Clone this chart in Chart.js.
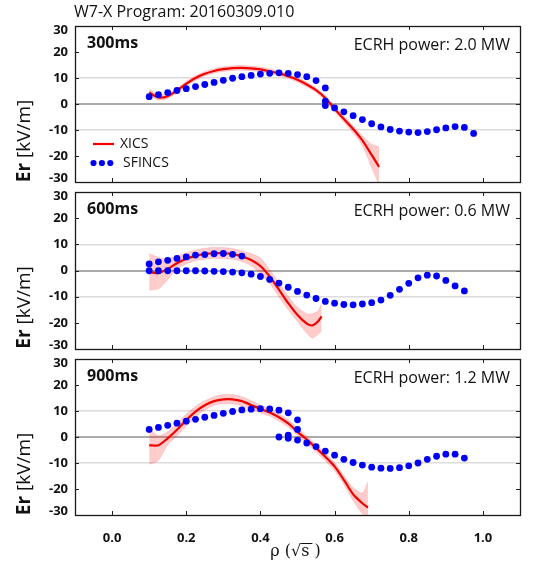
<!DOCTYPE html>
<html>
<head>
<meta charset="utf-8">
<script src="https://cdn.jsdelivr.net/npm/chart.js@4.4.0/dist/chart.umd.min.js"></script>
<style>
  html, body { margin: 0; padding: 0; background: #fff; }
  #wrap { position: relative; width: 538px; height: 567px; }
  canvas { position: absolute; left: 0; }
</style>
</head>
<body>
<div id="wrap">
  <canvas id="p300" width="538" height="188" style="top:0px"></canvas>
  <canvas id="p600" width="538" height="167" style="top:188px"></canvas>
  <canvas id="p900" width="538" height="212" style="top:355px"></canvas>
</div>
<script>
// --- data ---
const xTickValues = [0, 0.2, 0.4, 0.6, 0.8, 1.0];
const yTickValues = [-30, -20, -10, 0, 10, 20, 30];

// 300 ms
const rho300Xics = [0.1, 0.125, 0.15, 0.175, 0.2, 0.225, 0.25, 0.275, 0.3, 0.325, 0.35, 0.375, 0.4, 0.425, 0.45, 0.475, 0.5, 0.525, 0.55, 0.575, 0.6, 0.625, 0.65, 0.675, 0.7, 0.72];
const er300Xics = [4.4, 2.5, 3.0, 5.2, 7.8, 10.0, 11.6, 12.7, 13.4, 13.8, 13.9, 13.7, 13.3, 12.6, 11.8, 10.7, 9.3, 7.5, 5.3, 2.3, -1.8, -5.8, -9.6, -14.0, -19.6, -24.2];
const er300Hi = [5.9, 3.6, 4.0, 6.1, 8.7, 10.9, 12.5, 13.6, 14.3, 14.7, 14.8, 14.6, 14.2, 13.5, 12.7, 11.6, 10.2, 8.4, 6.2, 3.3, -0.7, -4.6, -8.4, -12.2, -15.5, -16.5];
const er300Lo = [3.4, 1.5, 2.0, 4.3, 6.9, 9.1, 10.7, 11.8, 12.5, 12.9, 13.0, 12.8, 12.4, 11.7, 10.9, 9.8, 8.4, 6.6, 4.4, 1.3, -2.9, -7.0, -11.2, -16.0, -24.5, -31.0];
const rho300Sfincs = [0.1, 0.125, 0.15, 0.175, 0.2, 0.225, 0.25, 0.275, 0.3, 0.325, 0.35, 0.375, 0.4, 0.425, 0.45, 0.475, 0.5, 0.525, 0.55, 0.575, 0.575, 0.575, 0.6, 0.625, 0.65, 0.675, 0.7, 0.725, 0.75, 0.775, 0.8, 0.825, 0.85, 0.875, 0.9, 0.925, 0.95, 0.975];
const er300Sfincs = [2.8, 3.6, 4.4, 5.2, 5.9, 6.7, 7.5, 8.3, 9.1, 9.9, 10.5, 11.0, 11.5, 11.8, 12.0, 11.8, 11.3, 10.5, 9.0, 6.2, 1.1, -0.6, -1.5, -3.0, -4.5, -6.0, -7.6, -8.8, -9.8, -10.4, -10.8, -11.0, -10.6, -9.9, -9.2, -8.7, -9.0, -11.3];

// 600 ms
const rho600Xics = [0.1, 0.125, 0.15, 0.175, 0.2, 0.225, 0.25, 0.275, 0.3, 0.325, 0.35, 0.375, 0.4, 0.425, 0.45, 0.475, 0.5, 0.525, 0.54, 0.555, 0.565];
const er600Xics = [-0.5, -1.0, 0.6, 2.8, 4.5, 5.6, 6.3, 6.6, 6.6, 6.3, 5.4, 4.0, 1.7, -2.3, -7.3, -12.5, -17.0, -20.3, -21.0, -19.5, -17.5];
const er600Hi = [6.5, 5.0, 4.5, 5.5, 6.7, 7.8, 8.5, 8.8, 8.8, 8.4, 7.5, 6.5, 4.8, 0.3, -4.8, -9.8, -14.0, -16.5, -16.5, -15.5, -12.5];
const er600Lo = [-7.5, -7.0, -3.5, 0.5, 2.5, 3.7, 4.3, 4.6, 4.6, 4.3, 3.4, 1.8, -1.2, -5.0, -10.0, -15.0, -19.5, -24.0, -25.8, -24.5, -23.0];
const rho600Sfincs = [0.1, 0.125, 0.15, 0.175, 0.2, 0.225, 0.25, 0.275, 0.3, 0.325, 0.35,
  0.1, 0.125, 0.15, 0.175, 0.2, 0.225, 0.25, 0.275, 0.3, 0.325, 0.35, 0.375, 0.4, 0.425, 0.45, 0.475, 0.5, 0.525, 0.55, 0.575, 0.6, 0.625, 0.65, 0.675, 0.7, 0.725, 0.75, 0.775, 0.8, 0.825, 0.85, 0.875, 0.9, 0.925, 0.95];
const er600Sfincs = [2.5, 3.3, 3.9, 4.6, 5.2, 5.9, 6.1, 6.4, 6.5, 6.2, 5.5,
  -0.1, -0.1, -0.1, -0.1, -0.1, -0.1, -0.2, -0.3, -0.4, -0.6, -0.9, -1.4, -2.3, -3.4, -4.8, -6.4, -8.0, -9.4, -10.7, -11.8, -12.5, -13.0, -13.1, -12.8, -12.3, -11.3, -9.5, -7.2, -4.9, -2.8, -1.8, -2.1, -3.8, -5.9, -7.8];

// 900 ms
const rho900Xics = [0.1, 0.125, 0.15, 0.175, 0.2, 0.225, 0.25, 0.275, 0.3, 0.325, 0.35, 0.375, 0.4, 0.425, 0.45, 0.475, 0.5, 0.525, 0.55, 0.575, 0.6, 0.625, 0.65, 0.675, 0.69];
const er900Xics = [-3.2, -3.2, -0.5, 2.8, 6.5, 9.8, 12.2, 13.8, 14.5, 14.5, 13.8, 12.3, 10.8, 9.4, 7.6, 5.2, 2.0, -1.0, -4.2, -7.6, -11.3, -16.5, -22.0, -25.5, -27.2];
const er900Hi = [3.5, 0.5, 2.0, 5.3, 8.8, 11.8, 14.0, 15.5, 16.3, 16.3, 15.5, 14.0, 12.3, 10.6, 8.9, 6.6, 3.5, 0.4, -2.8, -6.2, -9.8, -14.8, -19.5, -21.5, -17.3];
const er900Lo = [-10.5, -9.0, -3.0, 0.4, 4.2, 7.8, 10.4, 12.2, 12.8, 12.7, 12.0, 10.6, 9.2, 8.1, 6.2, 3.8, 0.5, -2.5, -5.8, -9.2, -13.0, -18.3, -24.5, -29.5, -31.0];
const rho900Sfincs = [0.1, 0.125, 0.15, 0.175, 0.2, 0.225, 0.25, 0.275, 0.3, 0.325, 0.35, 0.375, 0.4, 0.425, 0.45, 0.475, 0.5, 0.5,
  0.45, 0.475, 0.475, 0.5, 0.525, 0.55, 0.575, 0.6, 0.625, 0.65, 0.675, 0.7, 0.725, 0.75, 0.775, 0.8, 0.825, 0.85, 0.875, 0.9, 0.925, 0.95];
const er900Sfincs = [2.9, 3.7, 4.5, 5.3, 6.1, 6.8, 7.6, 8.3, 9.1, 9.8, 10.4, 10.7, 10.9, 10.8, 10.3, 9.3, 6.6, 2.9,
  0.0, 0.7, -0.5, -1.2, -2.3, -3.7, -5.4, -7.0, -8.6, -9.8, -10.8, -11.6, -12.0, -12.1, -11.8, -11.1, -10.0, -8.6, -7.4, -6.6, -6.6, -8.1];

const RED = '#f20000';
const PINK = 'rgba(255, 0, 0, 0.2)';
const BLUE = '#0000f5';

Chart.defaults.font.family = "'Open Sans', 'DejaVu Sans', sans-serif";
Chart.defaults.color = '#111';

function zip(xs, ys) {
  return xs.map((x, i) => ({ x: x, y: ys[i] }));
}

// frame, inner ticks and all the texts gnuplot puts around the panels
const decor = {
  id: 'decor',
  afterDraw(chart, args, opts) {
    const ctx = chart.ctx;
    const a = chart.chartArea;
    const xs = chart.scales.x, ys = chart.scales.y;
    ctx.save();

    // inner ticks
    ctx.strokeStyle = '#222';
    ctx.lineWidth = 1;
    ctx.beginPath();
    xTickValues.forEach(v => {
      const px = Math.round(xs.getPixelForValue(v)) + 0.5;
      ctx.moveTo(px, a.top); ctx.lineTo(px, a.top + 4);
      ctx.moveTo(px, a.bottom); ctx.lineTo(px, a.bottom - 4);
    });
    yTickValues.forEach(v => {
      if (Math.abs(v) === 30) return;
      const py = Math.round(ys.getPixelForValue(v)) + 0.5;
      ctx.moveTo(a.left, py); ctx.lineTo(a.left + 4, py);
      ctx.moveTo(a.right, py); ctx.lineTo(a.right - 4, py);
    });
    ctx.stroke();

    // frame
    ctx.lineWidth = 1.3;
    ctx.strokeStyle = '#1a1a1a';
    ctx.strokeRect(Math.round(a.left) + 0.5, Math.round(a.top) + 0.5,
      Math.round(a.right - a.left), Math.round(a.bottom - a.top));

    ctx.fillStyle = '#111';
    ctx.textBaseline = 'middle';

    // time label and heating power
    ctx.font = "bold 16px 'Open Sans', sans-serif";
    ctx.textAlign = 'left';
    ctx.fillText(opts.time, a.left + 12, a.top + 17);
    ctx.font = "16px 'Open Sans', sans-serif";
    ctx.textAlign = 'right';
    ctx.fillText(opts.power, a.right - 10, a.top + 19);

    // y title: bold "Er" then normal " [kV/m]"
    ctx.save();
    ctx.translate(25, (a.top + a.bottom) / 2 + 37);
    ctx.rotate(-Math.PI / 2);
    ctx.font = "bold 19px 'Open Sans', sans-serif";
    const w1 = ctx.measureText('Er').width;
    ctx.font = "19px 'Open Sans', sans-serif";
    const w2 = ctx.measureText(' [kV/m]').width;
    let x0 = -(w1 + w2) / 2;
    ctx.textAlign = 'left';
    ctx.font = "bold 19px 'Open Sans', sans-serif";
    ctx.fillText('Er', x0, 0);
    ctx.font = "19px 'Open Sans', sans-serif";
    ctx.fillText(' [kV/m]', x0 + w1, 0);
    ctx.restore();

    if (opts.title) {
      ctx.font = "16px 'Open Sans', sans-serif";
      ctx.textAlign = 'left';
      ctx.fillText(opts.title, 74, 12);
    }

    if (opts.legend) {
      const lx = a.left + 18;
      const ly1 = a.top + 118, ly2 = a.top + 137;
      ctx.strokeStyle = RED;
      ctx.lineWidth = 2.2;
      ctx.beginPath();
      ctx.moveTo(lx, ly1); ctx.lineTo(lx + 21, ly1);
      ctx.stroke();
      ctx.fillStyle = BLUE;
      [0, 8.4, 16.8].forEach(d => {
        ctx.beginPath();
        ctx.arc(lx + 0.5 + d, ly2, 3.1, 0, Math.PI * 2);
        ctx.fill();
      });
      ctx.fillStyle = '#111';
      ctx.font = "14px 'Open Sans', sans-serif";
      ctx.textAlign = 'left';
      ctx.fillText('XICS', lx + 27, ly1);
      ctx.fillText('SFINCS', lx + 30, ly2);
    }

    if (opts.xTitle) {
      const cx = (a.left + a.right) / 2 - 2;
      const cy = a.bottom + 37;
      ctx.font = "16px 'DejaVu Serif', serif";
      const parts = ['ρ (', '√', 's', ' )'];
      const widths = parts.map(p => ctx.measureText(p).width);
      let x = cx - widths.reduce((s, w) => s + w, 0) / 2;
      ctx.textAlign = 'left';
      parts.forEach((p, i) => {
        if (p === 's') {
          ctx.strokeStyle = '#111';
          ctx.lineWidth = 1;
          ctx.beginPath();
          ctx.moveTo(x, cy - 8.5); ctx.lineTo(x + widths[i] + 3, cy - 8.5);
          ctx.stroke();
        }
        ctx.fillText(p, x, cy);
        x += widths[i];
      });
    }
    ctx.restore();
  }
};

function makePanel(id, d) {
  return new Chart(document.getElementById(id), {
    type: 'line',
    plugins: [decor],
    data: {
      datasets: [
        {
          label: 'SFINCS', data: zip(d.rhoS, d.erS), showLine: false,
          pointRadius: 3.4, pointBackgroundColor: BLUE, pointBorderWidth: 0, order: 0
        },
        {
          label: 'XICS', data: zip(d.rhoX, d.erX), borderColor: RED, borderWidth: 2.2,
          pointRadius: 0, tension: 0.25, fill: false, order: 1
        },
        {
          label: 'XICS upper', data: zip(d.rhoX, d.hi), borderColor: 'rgba(255,0,0,0.12)', borderWidth: 1,
          backgroundColor: PINK, fill: '+1', pointRadius: 0, tension: 0.25, order: 2
        },
        {
          label: 'XICS lower', data: zip(d.rhoX, d.lo), borderColor: 'rgba(255,0,0,0.12)', borderWidth: 1,
          fill: false, pointRadius: 0, tension: 0.25, order: 3
        }
      ]
    },
    options: {
      responsive: false,
      animation: false,
      devicePixelRatio: 1,
      layout: { padding: { top: d.padTop, bottom: d.padBottom, left: 0, right: 18 } },
      plugins: {
        legend: { display: false },
        tooltip: { enabled: false },
        decor: { time: d.time, power: d.power, legend: d.legend, title: d.title, xTitle: d.showX }
      },
      scales: {
        x: {
          type: 'linear', min: -0.1, max: 1.1, display: d.showX,
          afterBuildTicks: s => { s.ticks = xTickValues.map(v => ({ value: v })); },
          afterFit: s => { s.height = d.xHeight; s.paddingLeft = 0; s.paddingRight = 0; },
          grid: { display: false },
          border: { display: false },
          ticks: {
            font: { weight: 'bold', size: 13 }, color: '#111', padding: 7, maxRotation: 0,
            callback: v => v.toFixed(1)
          }
        },
        y: {
          type: 'linear', min: -30, max: 30,
          afterBuildTicks: s => { s.ticks = yTickValues.map(v => ({ value: v })); },
          afterFit: s => { s.width = 75; s.paddingTop = 0; s.paddingBottom = 0; },
          grid: {
            drawTicks: false,
            color: c => c.tick.value === 0 ? '#ababab' : (Math.abs(c.tick.value) === 10 ? '#dcdcdc' : 'rgba(0,0,0,0)'),
            lineWidth: c => c.tick.value === 0 ? 2 : 1.5
          },
          border: { display: false },
          ticks: {
            font: { weight: 'bold', size: 13, lineHeight: 0.62 }, color: '#111', padding: 7,
            callback: v => v === 30 ? ['', '30'] : (v === -30 ? ['-30', ''] : String(v))
          }
        }
      }
    }
  });
}

makePanel('p300', {
  rhoX: rho300Xics, erX: er300Xics, hi: er300Hi, lo: er300Lo,
  rhoS: rho300Sfincs, erS: er300Sfincs,
  time: '300ms', power: 'ECRH power: 2.0 MW', legend: true, title: 'W7-X Program: 20160309.010',
  showX: false, xHeight: 0, padTop: 26, padBottom: 6
});
makePanel('p600', {
  rhoX: rho600Xics, erX: er600Xics, hi: er600Hi, lo: er600Lo,
  rhoS: rho600Sfincs, erS: er600Sfincs,
  time: '600ms', power: 'ECRH power: 0.6 MW', legend: false, title: null,
  showX: false, xHeight: 0, padTop: 4, padBottom: 6
});
makePanel('p900', {
  rhoX: rho900Xics, erX: er900Xics, hi: er900Hi, lo: er900Lo,
  rhoS: rho900Sfincs, erS: er900Sfincs,
  time: '900ms', power: 'ECRH power: 1.2 MW', legend: false, title: null,
  showX: true, xHeight: 52, padTop: 4, padBottom: 0
});
</script>
</body>
</html>
